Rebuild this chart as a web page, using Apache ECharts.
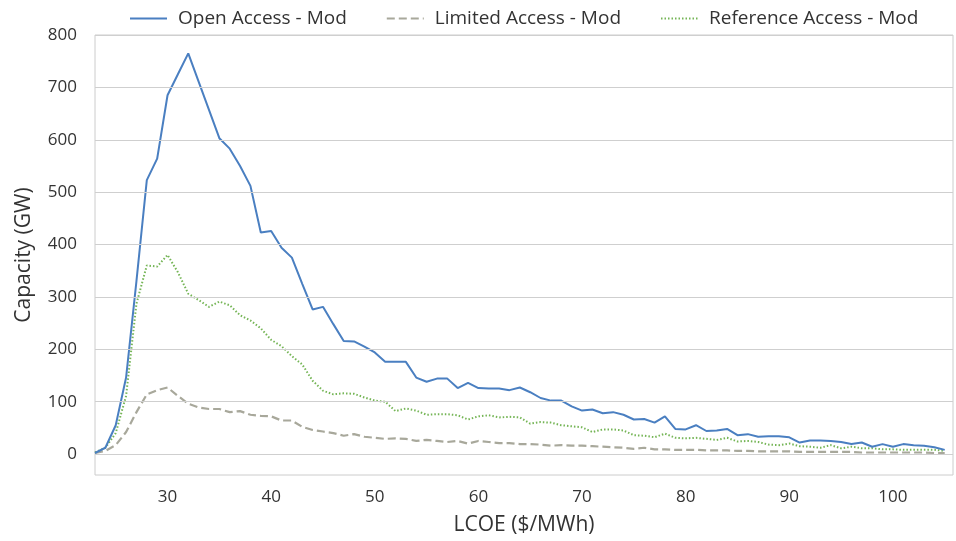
<!DOCTYPE html>
<html>
<head>
<meta charset="utf-8">
<script src="https://cdn.jsdelivr.net/npm/echarts@6/dist/echarts.min.js"></script>
<style>
  html, body { margin: 0; padding: 0; background: #fff; }
  #main { width: 956px; height: 541px; }
</style>
</head>
<body>
<div id="main"></div>
<script>
// LCOE bins ($/MWh)
const lcoe = [23, 24, 25, 26, 27, 28, 29, 30, 31, 32, 33, 34, 35, 36, 37, 38, 39, 40,
    41, 42, 43, 44, 45, 46, 47, 48, 49, 50, 51, 52, 53, 54, 55, 56, 57, 58, 59, 60,
    61, 62, 63, 64, 65, 66, 67, 68, 69, 70, 71, 72, 73, 74, 75, 76, 77, 78, 79, 80,
    81, 82, 83, 84, 85, 86, 87, 88, 89, 90, 91, 92, 93, 94, 95, 96, 97, 98, 99, 100,
    101, 102, 103, 104, 105];

// capacity (GW)
const openAccess = [2, 12, 55, 146, 330, 523, 564, 685, 725, 765, 711, 657, 603, 583, 550, 512, 423, 426,
    394, 375, 325, 276, 281, 248, 216, 215, 205, 194, 176, 176, 176, 146, 138, 144, 144, 126, 136, 126,
    125, 125, 122, 127, 118, 107, 102, 102, 91, 83, 85, 78, 80, 75, 66, 67, 60, 72, 48, 47,
    55, 44, 45, 48, 36, 38, 33, 34, 34, 32, 22, 26, 26, 25, 23, 19, 22, 14, 19, 14,
    19, 17, 16, 13, 8];

const limitedAccess = [2, 6, 17, 42, 80, 114, 122, 127, 111, 96, 89, 86, 86, 80, 82, 75, 73, 72,
    64, 64, 52, 46, 43, 40, 35, 38, 33, 31, 29, 30, 29, 25, 27, 25, 23, 25, 20, 25,
    23, 21, 21, 19, 19, 18, 16, 17, 16, 16, 15, 14, 13, 12, 10, 12, 9, 9, 8, 8,
    8, 7, 7, 7, 6, 6, 5, 5, 5, 5, 4, 4, 4, 4, 4, 4, 3, 3, 3, 3,
    3, 3, 3, 2, 2];

const referenceAccess = [3, 12, 40, 111, 287, 360, 358, 380, 347, 306, 294, 281, 291, 284, 265, 255, 240, 218,
    206, 187, 171, 140, 121, 114, 116, 115, 108, 102, 100, 82, 87, 83, 75, 76, 76, 74, 66, 72,
    74, 70, 71, 70, 58, 61, 60, 55, 53, 51, 42, 47, 47, 45, 36, 35, 32, 39, 31, 30,
    31, 29, 27, 31, 24, 25, 23, 18, 17, 20, 15, 14, 12, 17, 11, 14, 11, 11, 9, 9,
    8, 8, 8, 8, 6];

const yGridValues = [0, 100, 200, 300, 400, 500, 600, 700, 800];

const names = ['Open Access - Mod', 'Limited Access - Mod', 'Reference Access - Mod'];

function pairs(vals) {
    return lcoe.map((x, i) => [x, vals[i]]);
}

const font = 'Open Sans';

let myChart = echarts.init(document.getElementById('main'));
myChart.setOption({
    animation: false,
    textStyle: { fontFamily: font, color: '#333' },
    legend: {
        data: names,
        top: 4,
        left: 124,
        itemWidth: 37,
        itemHeight: 14,
        itemGap: 39,
        itemStyle: { opacity: 0 },
        textStyle: { fontFamily: font, fontSize: 19, color: '#333', padding: [0, 0, 0, 6] }
    },
    grid: {
        left: 95,
        right: -1,
        top: 35,
        bottom: 62,
        show: true,
        borderColor: '#cccccc',
        borderWidth: 1
    },
    xAxis: {
        type: 'value',
        min: 23,
        max: 105.8,
        interval: 1,
        name: 'LCOE ($/MWh)',
        nameLocation: 'middle',
        nameGap: 40,
        nameTextStyle: { fontFamily: font, fontSize: 21, color: '#333' },
        axisLine: { show: false },
        axisTick: { show: false },
        splitLine: { show: false },
        axisLabel: {
            margin: 14,
            fontSize: 17,
            color: '#333',
            formatter: v => (Math.abs(v % 10) < 1e-6 ? String(Math.round(v)) : '')
        }
    },
    yAxis: {
        type: 'value',
        min: -40,
        max: 800,
        interval: 20,
        name: 'Capacity (GW)',
        nameLocation: 'middle',
        nameGap: 60,
        nameTextStyle: { fontFamily: font, fontSize: 21, color: '#333' },
        axisLine: { show: false },
        axisTick: { show: false },
        splitLine: { show: false },
        axisLabel: {
            margin: 18,
            fontSize: 17,
            color: '#333',
            formatter: v => (v >= 0 && Math.abs(v % 100) < 1e-6 ? String(Math.round(v)) : '')
        }
    },
    series: [{
        // horizontal grid lines
        type: 'line',
        data: [],
        silent: true,
        z: 1,
        markLine: {
            silent: true,
            symbol: 'none',
            label: { show: false },
            lineStyle: { color: '#cfcfcf', width: 1, type: 'solid' },
            data: yGridValues.map(v => ({ yAxis: v }))
        }
    }, {
        name: names[0],
        type: 'line',
        symbol: 'none',
        z: 4,
        data: pairs(openAccess),
        itemStyle: { color: '#4a7fc1' },
        lineStyle: { color: '#4a7fc1', width: 2 }
    }, {
        name: names[1],
        type: 'line',
        symbol: 'none',
        z: 3,
        data: pairs(limitedAccess),
        itemStyle: { color: '#a8a89b' },
        lineStyle: { color: '#a8a89b', width: 2.2, type: [8, 4] }
    }, {
        name: names[2],
        type: 'line',
        symbol: 'none',
        z: 3,
        data: pairs(referenceAccess),
        itemStyle: { color: '#75b556' },
        lineStyle: { color: '#75b556', width: 2, type: [1.5, 2] }
    }]
});
</script>
</body>
</html>
